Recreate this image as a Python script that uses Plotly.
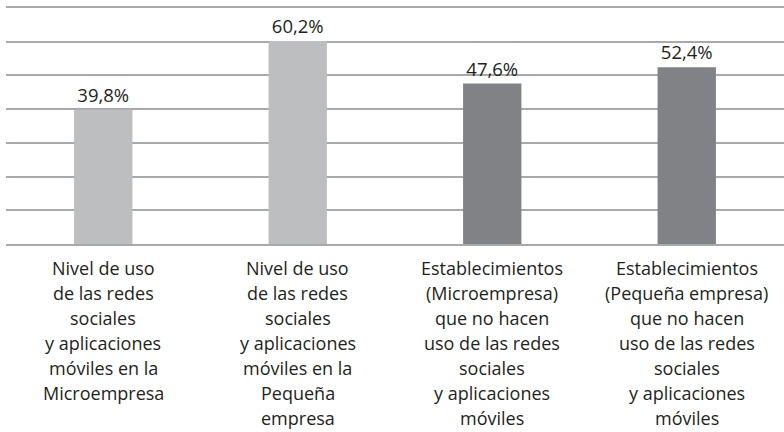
import plotly.graph_objects as go

categories = [
    "Nivel de uso<br>de las redes<br>sociales<br>y aplicaciones<br>móviles en la<br>Microempresa",
    "Nivel de uso<br>de las redes<br>sociales<br>y aplicaciones<br>móviles en la<br>Pequeña<br>empresa",
    "Establecimientos<br>(Microempresa)<br>que no hacen<br>uso de las redes<br>sociales<br>y aplicaciones<br>móviles",
    "Establecimientos<br>(Pequeña empresa)<br>que no hacen<br>uso de las redes<br>sociales<br>y aplicaciones<br>móviles",
]
values = [39.8, 60.2, 47.6, 52.4]
value_labels = ["39,8%", "60,2%", "47,6%", "52,4%"]
bar_colors = ["#bcbec0", "#bcbec0", "#808285", "#808285"]

FONT = "Open Sans"
TEXT_COLOR = "#231f20"
GRID = "#a7a9ac"

fig = go.Figure()
fig.add_trace(go.Bar(
    x=list(range(len(categories))),
    y=values,
    marker=dict(color=bar_colors, line=dict(width=0)),
    width=0.30,
    text=value_labels,
    textposition="outside",
    textfont=dict(family=FONT, size=18.5, color=TEXT_COLOR),
    cliponaxis=False,
    hoverinfo="skip",
))

annotations = []
line_h = 25
first_offset = 24
for i, cat in enumerate(categories):
    for j, line in enumerate(cat.split("<br>")):
        annotations.append(dict(
            x=i, y=0, xref="x", yref="y",
            text=line, showarrow=False,
            xanchor="center", yanchor="middle",
            yshift=-(first_offset + j * line_h),
            font=dict(family=FONT, size=18, color=TEXT_COLOR),
        ))

fig.update_layout(
    width=784, height=432,
    margin=dict(l=6, r=0, t=8, b=188, autoexpand=False),
    paper_bgcolor="white", plot_bgcolor="white",
    showlegend=False,
    annotations=annotations,
    xaxis=dict(range=[-0.5, 3.5], showticklabels=False, showgrid=False,
               zeroline=False, showline=True, mirror=True, linecolor=GRID,
               linewidth=1.5, ticks=""),
    yaxis=dict(range=[0, 70], dtick=10, showticklabels=False, showgrid=True,
               gridcolor=GRID, gridwidth=1.5, zeroline=False,
               showline=False, ticks=""),
)

fig.write_html("out.html", config={"displayModeBar": False},
               post_script="document.body.style.margin='0';")
